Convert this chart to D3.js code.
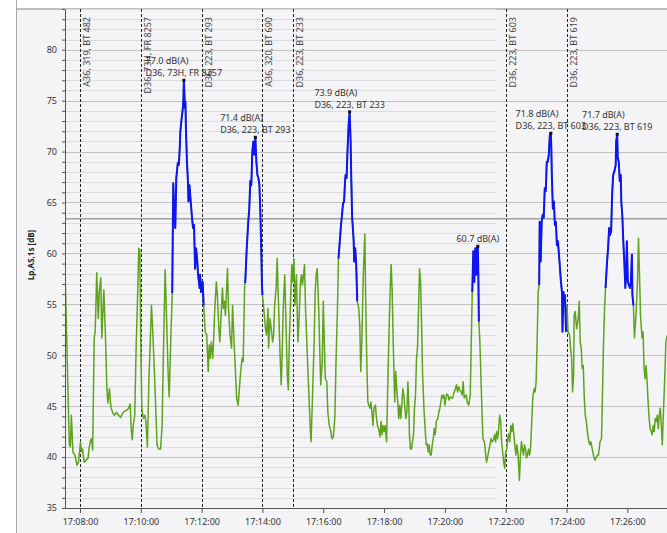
<!DOCTYPE html>
<html><head><meta charset="utf-8">
<script src="https://cdn.jsdelivr.net/npm/d3@7"></script>
<style>
body{margin:0;background:#fff;}
svg text{font-family:"Noto Sans","Open Sans",sans-serif;}
</style>
</head><body>
<svg id="chart" width="667" height="533"></svg>
<script>
// ---------------- data ----------------
const startClock = "17:07:30";
const endClock = "17:27:30";
const offsetsSec = [0,1,4,7,9,11,13,16,20,24,27,31,33,35,38,42,46,48,51,53,55,58,60,63,66,68,71,73,77,80,83,85,88,91,95,98,102,106,110,114,118,122,126,129,131,133,135,138,141,143,146,148,150,152,155,158,160,163,166,168,171,173,176,179,182,185,189,192,195,198,
204,206,209,212,214,216,218,220,223,225,227,228,230,233,234,235,237,238,239,241,243,244,246,248,251,253,255,257,259,261,263,266,267,269,272,274,277,280,283,285,287,289,292,294,296,299,301,304,306,309,311,313,315,317,319,321,323,326,329,331,334,337,339,342,344,347,350,352,355,356,359,362,364,366,368,370,372,374,376,378,380,382,384,386,388,389,390,392,
396,398,401,402,405,408,410,412,414,417,419,422,425,427,429,431,434,437,439,441,443,446,448,450,452,454,457,460,462,465,467,469,471,473,475,477,480,483,485,486,489,492,494,496,498,501,503,505,508,510,512,514,517,519,522,525,527,530,533,535,538,540,542,545,547,549,551,553,554,556,558,560,562,564,565,567,568,570,571,573,575,577,580,582,584,586,589,
592,594,596,598,600,602,604,606,608,610,613,615,617,619,622,624,626,628,630,632,635,637,639,641,643,644,646,648,651,653,655,657,659,661,663,665,667,669,671,673,675,677,679,680,682,684,686,688,690,692,694,696,698,700,702,704,706,709,711,713,715,717,719,721,723,725,727,729,731,733,736,738,740,742,744,746,748,750,752,754,756,758,760,763,765,767,770,773,775,777,779,782,784,786,788,
792,794,797,800,802,804,806,808,810,812,813,815,816,817,819,821,823,825,828,830,832,834,836,839,841,843,846,848,850,852,854,856,858,860,862,864,866,868,870,872,874,876,878,880,882,884,886,888,890,892,894,897,899,901,903,905,907,909,911,913,915,917,919,921,923,924,926,928,930,932,934,936,937,939,941,943,945,947,949,951,953,955,957,959,960,961,963,965,967,969,971,973,975,977,979,981,982,984,986,
987,989,991,993,996,998,1000,1002,1004,1005,1007,1010,1013,1015,1017,1019,1021,1023,1025,1027,1029,1032,1034,1036,1038,1040,1043,1046,1048,1051,1053,1056,1059,1061,1063,1065,1067,1070,1072,1074,1076,1078,1080,1082,1084,1086,1087,1088,1090,1091,1093,1095,1097,1098,1100,1102,1104,1106,1108,1109,1111,1113,1115,1117,1119,1120,1122,1124,1127,1130,1132,1134,1136,1139,1141,1143,1145,1147,1149,1151,1153,1155,1157,1159,1161,1163,1165,1167,1169,1171,1173,1175,1177,1179,1181,1184,1186,1189];
const levelsDb = [57.3,57.2,51.3,44.8,41.2,41.0,44.1,40.5,40.2,39.2,39.5,41.5,40.5,40.8,39.5,39.7,39.9,40.9,41.7,41.8,40.7,51.7,52.3,58.1,53.6,56.2,57.6,51.7,56.4,52.3,46.7,45.3,46.7,44.9,44.3,44.1,44.4,44.1,43.9,44.3,44.5,44.6,44.8,45.2,42.8,41.7,43.1,44.1,51.3,54.6,60.5,60.3,50.7,44.8,43.8,44.1,43.5,41.0,47.7,50.4,54.9,53.0,49.4,45.4,41.2,40.8,40.8,43.1,51.3,58.4,
48.1,45.9,51.3,56.1,66.9,63.8,62.5,67.4,68.9,68.7,70.5,72.0,73.0,74.3,75.1,77.0,74.3,74.9,72.3,69.0,67.1,65.1,66.7,65.4,63.5,62.5,62.8,58.5,60.5,59.5,57.9,56.6,57.9,56.2,57.2,54.9,52.3,52.0,48.4,51.0,49.7,51.3,49.7,52.0,54.6,57.2,55.9,52.6,51.3,54.6,56.6,54.6,55.3,53.9,56.2,58.5,54.6,52.0,50.7,54.9,51.3,48.1,45.8,45.1,46.4,48.4,49.7,49.4,57.2,57.1,60.5,63.1,64.4,67.1,66.7,70.0,71.0,69.7,71.4,69.0,67.7,67.4,66.7,63.8,59.5,56.9,55.9,54.9,
52.6,52.0,54.6,50.7,53.6,52.3,51.3,52.0,54.9,56.6,59.5,54.6,49.7,47.1,50.3,54.6,57.9,52.0,48.1,46.6,51.3,56.2,58.9,57.2,59.5,54.9,57.9,51.3,53.3,57.2,57.9,56.9,57.9,58.9,54.6,52.0,48.1,44.4,42.2,41.5,46.4,51.3,56.2,57.9,58.5,54.6,50.7,47.1,49.4,55.3,51.3,47.7,47.4,44.4,43.1,42.5,41.8,42.0,44.1,49.0,54.6,59.5,60.8,62.8,63.8,64.9,65.1,67.1,67.7,67.4,70.3,72.6,73.9,71.0,68.0,63.5,62.8,61.2,59.2,60.5,58.9,55.3,54.6,53.0,48.4,51.3,57.9,
61.9,54.6,49.0,45.4,45.1,44.8,45.4,44.4,43.1,44.8,45.1,43.8,43.1,42.8,42.0,43.5,42.2,43.1,42.5,43.1,41.5,46.4,50.7,54.6,57.9,58.9,56.2,51.3,45.4,48.4,46.7,45.4,43.8,45.1,43.8,45.1,46.7,46.1,44.8,43.8,44.4,47.4,44.8,42.2,40.8,40.8,41.5,42.2,44.8,46.1,49.7,50.7,54.6,58.5,57.2,53.0,48.1,44.4,42.8,41.2,41.3,40.5,41.2,40.2,40.2,41.2,41.8,42.8,42.2,43.5,43.8,44.4,44.8,45.4,46.1,45.8,46.1,45.1,45.8,46.2,46.1,45.6,45.9,45.8,45.8,46.2,46.6,47.1,46.4,46.9,46.6,46.4,46.1,47.4,45.8,
46.1,45.4,45.1,46.1,51.3,56.2,60.2,57.2,60.5,57.9,60.5,60.7,57.9,53.3,51.3,48.1,44.8,41.8,41.5,40.5,39.5,39.9,40.5,41.2,41.8,41.5,41.7,42.2,41.5,42.5,41.8,42.8,44.1,43.5,41.5,40.5,39.5,38.9,40.5,40.8,41.8,42.3,41.5,43.1,42.5,43.3,42.2,41.2,40.2,41.2,40.5,37.7,40.2,41.5,40.8,40.2,41.2,40.8,39.9,40.2,40.8,40.2,40.8,43.1,45.4,46.1,46.7,46.4,47.4,51.3,56.2,56.9,63.1,59.2,63.1,63.8,63.5,66.4,66.1,69.0,69.0,69.7,71.6,71.8,70.3,67.7,64.4,65.1,62.8,63.1,60.8,61.2,59.9,58.6,57.2,56.2,52.3,56.2,55.3,
55.9,52.3,54.9,52.3,52.0,50.7,49.7,46.4,48.1,53.9,54.3,52.6,53.6,55.3,51.3,50.7,48.7,49.0,45.8,44.1,43.5,42.2,41.5,41.2,41.5,41.0,40.2,39.7,39.9,40.2,40.2,41.5,41.8,46.4,51.3,54.6,56.6,59.2,60.5,62.5,61.8,62.2,65.8,67.7,68.0,68.4,68.7,71.0,71.7,69.4,69.0,67.1,67.7,65.1,63.8,61.2,59.2,56.6,58.5,61.2,57.2,56.9,56.6,57.2,59.9,55.9,54.9,51.7,53.9,57.2,61.5,57.9,53.9,51.7,52.3,48.7,47.7,49.0,47.4,45.4,43.8,42.8,42.5,42.2,43.1,42.5,43.8,43.5,44.1,42.8,44.1,44.8,43.1,41.2,44.1,48.1,51.3,52.0];
// pass-by events (seconds after start), drawn in blue
const eventStarts = [212,356,540,804,936,1067];
const eventEnds   = [274,390,577,817,989,1122];
const peakSec    = [235,376,562,815,959,1090];
const peakDb     = [77.0,71.4,73.9,60.7,71.8,71.7];
const peakVehicle= ["D36, 73H, FR 8257","D36, 223, BT 293","D36, 223, BT 233","","D36, 223, BT 603","D36, 223, BT 619"];
const markerClocks = ["17:08:00","17:10:00","17:12:00","17:14:00","17:15:00","17:22:00","17:24:00"];
const markerLabels = ["A36, 319, BT 482","D36, 73H, FR 8257","D36, 223, BT 293","A36, 320, BT 690","D36, 223, BT 233","D36, 223, BT 603","D36, 223, BT 619"];
const xTickClocks = ["17:08:00","17:10:00","17:12:00","17:14:00","17:16:00","17:18:00","17:20:00","17:22:00","17:24:00","17:26:00"];
const yMajorTicks = [35,40,45,50,55,60,65,70,75,80];
const yDomain = [35,84];
const thresholdDb = 63.4;
const yTitle = "Lp,AS,1s [dB]";

// ---------------- chart ----------------
const W = 667, H = 533;
const L = 65, T = 9, B = 508;
const parse = d3.timeParse("%H:%M:%S");
const t0 = parse(startClock);
const secToDate = s => new Date(t0.getTime() + s*1000);

const x = d3.scaleTime().domain([t0, parse(endClock)]).range([64.8, 64.8 + 1200*0.5068]);
const y = d3.scaleLinear().domain(yDomain).range([B, T]);

const svg = d3.select("#chart");
svg.append("rect").attr("x",0).attr("y",0).attr("width",W).attr("height",H).attr("fill","#ffffff");
svg.append("rect").attr("x",16).attr("y",T).attr("width",W-16).attr("height",H-T).attr("fill","#f4f4f7");
svg.append("line").attr("x1",16.5).attr("x2",16.5).attr("y1",0).attr("y2",H).attr("stroke","#a8a8a8").attr("stroke-width",1);
svg.append("line").attr("x1",16).attr("x2",W).attr("y1",T).attr("y2",T).attr("stroke","#a8a8a8").attr("stroke-width",1.5);

svg.append("clipPath").attr("id","plotclip").append("rect")
  .attr("x",L).attr("y",T).attr("width",W-L).attr("height",B-T);

// grid
const grid = svg.append("g");
const allTicks = d3.range(yDomain[0], yDomain[1]+1);
grid.selectAll("line.minor").data(allTicks.filter(v=>v%5!==0)).join("line")
  .attr("x1",L).attr("x2",496).attr("y1",d=>Math.round(y(d))+0.5).attr("y2",d=>Math.round(y(d))+0.5)
  .attr("stroke","#dcdce0").attr("stroke-width",1);
grid.selectAll("line.major").data(yMajorTicks).join("line")
  .attr("x1",L).attr("x2",W).attr("y1",d=>Math.round(y(d))+0.5).attr("y2",d=>Math.round(y(d))+0.5)
  .attr("stroke","#c2c2c2").attr("stroke-width",1);
grid.append("line").attr("x1",L).attr("x2",W).attr("y1",y(thresholdDb)).attr("y2",y(thresholdDb))
  .attr("stroke","#a0a0a0").attr("stroke-width",1.6);

// markers
const mk = svg.append("g");
markerClocks.forEach((c,i)=>{
  const xx = Math.round(x(parse(c)))+0.5;
  mk.append("line").attr("x1",xx).attr("x2",xx).attr("y1",T).attr("y2",B)
    .attr("stroke","#222").attr("stroke-width",1).attr("stroke-dasharray","3,2");
  mk.append("text").attr("transform",`translate(${xx+9},17) rotate(-90)`)
    .attr("text-anchor","end").attr("font-size",9).attr("fill","#444").text(markerLabels[i]);
});

// series
const pts = offsetsSec.map((s,i)=>({t:secToDate(s), s, v:levelsDb[i]}));
const line = d3.line().x(d=>x(d.t)).y(d=>y(d.v));
const plot = svg.append("g").attr("clip-path","url(#plotclip)");
plot.append("path").datum(pts).attr("d",line).attr("fill","none")
  .attr("stroke","#5ea31c").attr("stroke-width",1.5).attr("stroke-linejoin","round");
eventStarts.forEach((s0,i)=>{
  const seg = pts.filter(p=>p.s>=s0 && p.s<=eventEnds[i]);
  plot.append("path").datum(seg).attr("d",line).attr("fill","none")
    .attr("stroke","#0f14f5").attr("stroke-width",2).attr("stroke-linejoin","round");
});

// peaks
const pk = svg.append("g");
peakSec.forEach((s,i)=>{
  const px = x(secToDate(s)), py = y(peakDb[i]);
  pk.append("rect").attr("x",px-1.5).attr("y",py-1.5).attr("width",3).attr("height",3).attr("fill","#111");
  const l1 = peakDb[i].toFixed(1)+" dB(A)";
  if (peakVehicle[i]) {
    const t2 = pk.append("text").attr("font-size",9).attr("fill","#333").attr("y",py-4).text(peakVehicle[i]);
    const t1 = pk.append("text").attr("font-size",9).attr("fill","#333").attr("y",py-16).text(l1);
    const w = Math.max(t1.node().getComputedTextLength(), t2.node().getComputedTextLength());
    t1.attr("x",px-w/2); t2.attr("x",px-w/2);
  } else {
    pk.append("text").attr("font-size",9).attr("fill","#333").attr("x",px).attr("y",py-4)
      .attr("text-anchor","middle").text(l1);
  }
});

// axes
const yAxis = d3.axisLeft(y).tickValues(allTicks).tickSize(3).tickSizeOuter(0).tickPadding(5)
  .tickFormat(d=> d%5===0 ? d : "");
const gy = svg.append("g").attr("transform",`translate(${L},0)`).call(yAxis);
gy.select(".domain").attr("stroke","#555");
gy.selectAll(".tick line").attr("stroke","#555");
gy.selectAll(".tick text").attr("font-size",9).attr("fill","#333").attr("font-family","Noto Sans");

const xAxis = d3.axisBottom(x).tickValues(xTickClocks.map(parse)).tickSize(5).tickSizeOuter(0).tickPadding(6)
  .tickFormat(d3.timeFormat("%H:%M:%S"));
const gx = svg.append("g").attr("transform",`translate(0,${B})`).call(xAxis);
gx.select(".domain").attr("stroke","#555");
gx.selectAll(".tick line").attr("stroke","#555");
gx.selectAll(".tick text").attr("font-size",9).attr("fill","#333").attr("font-family","Noto Sans");

svg.append("text").attr("transform","translate(34,255) rotate(-90)").attr("text-anchor","middle")
  .attr("font-size",8).attr("font-weight","bold").attr("fill","#222").text(yTitle);
</script>
</body></html>
